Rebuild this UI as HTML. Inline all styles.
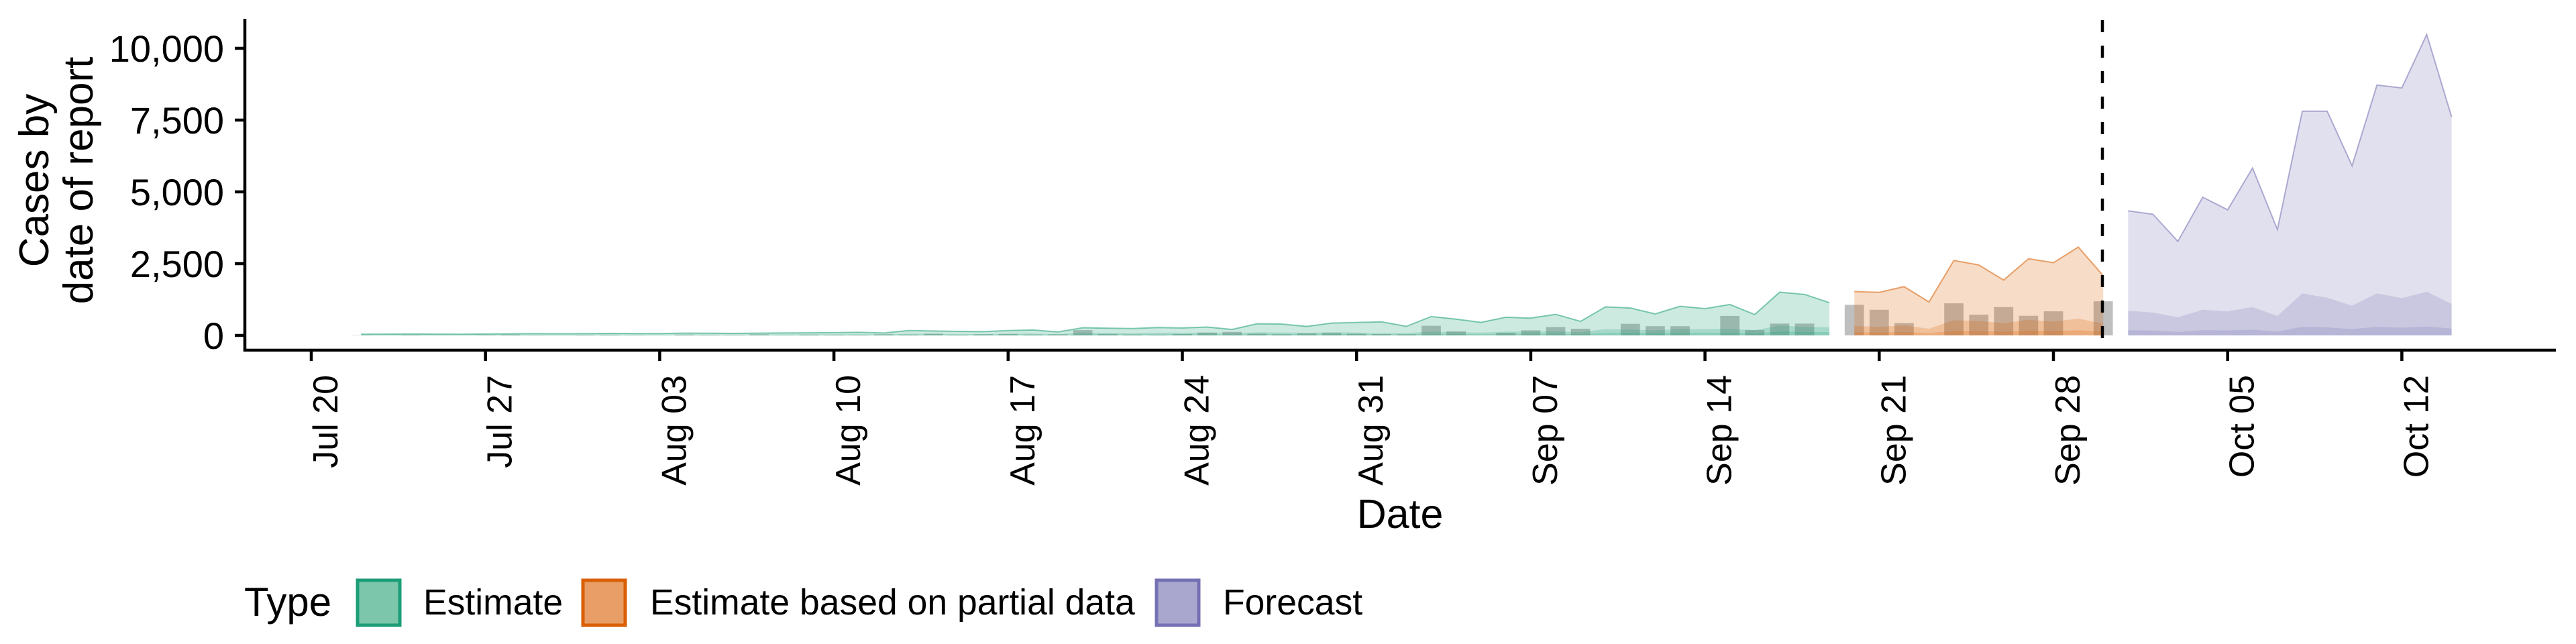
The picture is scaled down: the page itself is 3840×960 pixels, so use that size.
<!DOCTYPE html>
<html><head><meta charset="utf-8"><style>
html,body{margin:0;padding:0;background:#fff;}
svg{display:block;font-family:"Liberation Sans",Arial,sans-serif;}
</style></head><body>
<svg id="chart" width="3840" height="960" viewBox="0 0 3840 960" xmlns="http://www.w3.org/2000/svg">
<g id="bars"></g>
<g id="ribbons"></g>
<line x1="3134" y1="30" x2="3134" y2="522" stroke="#000" stroke-width="4.5" stroke-dasharray="18,20"/>
<line x1="365" y1="28" x2="365" y2="524" stroke="#000" stroke-width="4.5"/>
<line x1="363" y1="522" x2="3810" y2="522" stroke="#000" stroke-width="4.5"/>
<g id="yticks"></g>
<g id="xticks"></g>
<text transform="translate(72,269) rotate(-90)" text-anchor="middle" font-size="62"><tspan x="0" dy="0">Cases by</tspan><tspan x="0" dy="66">date of report</tspan></text>
<text x="2087" y="787" text-anchor="middle" font-size="61">Date</text>
<g>
<text x="364" y="918" font-size="60">Type</text>
<rect x="533" y="865" width="63" height="67" fill="#7cc7ac" stroke="#1B9E77" stroke-width="5"/>
<text x="631" y="916" font-size="53.5">Estimate</text>
<rect x="869" y="865" width="63" height="67" fill="#e89e66" stroke="#D95F02" stroke-width="5"/>
<text x="969" y="916" font-size="53.5">Estimate based on partial data</text>
<rect x="1724" y="865" width="63" height="67" fill="#aaa7cf" stroke="#7570B3" stroke-width="5"/>
<text x="1823" y="916" font-size="53.5">Forecast</text>
</g>
</svg>
<script>
// x axis ticks: day offsets from Jul 20
const tickDays = [0,7,14,21,28,35,42,49,56,63,70,77,84];
const tickLabels = ["Jul 20","Jul 27","Aug 03","Aug 10","Aug 17","Aug 24","Aug 31","Sep 07","Sep 14","Sep 21","Sep 28","Oct 05","Oct 12"];
const yTicks = [0,2500,5000,7500,10000];
const yTickLabels = ["0","2,500","5,000","7,500","10,000"];
// reported cases, days 2..72
const barStartDay = 2;
const barValues = [10,0,20,5,0,15,30,10,0,20,25,10,0,30,20,15,40,10,30,20,
 20,40,30,60,20,40,50,30,40,184,50,30,20,50,100,123,60,40,70,90,60,50,40,
 335,140,0,93,177,291,233,0,405,322,322,0,680,186,412,412,0,
 1065,893,427,0,1118,722,987,684,839,0,1188];
// Estimate: days 2..61
const estStartDay = 2;
const estUpper90 = [40,45,50,45,40,50,55,60,55,60,70,65,60,80,75,70,80,85,90,95,
 107,84,168,155,140,130,168,190,120,268,250,240,275,260,291,207,405,395,314,428,451,473,
 315,657,566,452,634,603,734,489,993,955,748,1016,932,1077,727,1505,1429,1140];
const estUpper50 = [15,18,20,18,16,20,22,24,22,24,28,26,24,32,30,28,32,34,36,38,
 40,35,60,55,50,48,60,68,45,95,90,85,95,92,100,75,110,105,90,115,100,69,
 84,130,115,100,130,130,145,115,222,207,176,222,222,230,184,345,299,284];
const estUpper20 = [6,7,8,7,6,8,9,10,9,10,11,10,10,13,12,11,13,14,14,15,
 16,14,24,22,20,19,24,27,18,38,36,34,38,37,40,30,44,42,36,46,40,28,
 34,52,46,40,52,52,58,46,89,83,70,89,89,92,74,138,120,114];
// Estimate based on partial data: days 62..72
const partStartDay = 62;
const partUpper90 = [1530,1500,1700,1165,2610,2455,1927,2672,2532,3076,2081];
const partUpper50 = [326,296,350,233,529,505,427,543,482,583,412];
const partUpper20 = [110,100,120,80,160,150,130,170,150,180,130];
// Forecast: days 73..86
const fcStartDay = 73;
const fcUpper90 = [4340,4220,3275,4815,4375,5830,3690,7810,7810,5910,8720,8620,10480,7610];
const fcUpper50 = [858,797,632,893,834,988,678,1463,1310,1035,1463,1298,1524,1095];
const fcUpper20 = [180,170,120,180,175,200,130,300,280,220,300,270,310,240];

const NS = "http://www.w3.org/2000/svg";
function xScale(d){ return 464 + 37.1*d; }
function yScale(v){ return 500 - v*0.0428; }

const barsG = document.getElementById('bars');
const bw = 0.775*37.1;
barValues.forEach((v,i)=>{
  if(v<=0) return;
  const d = barStartDay + i;
  const r = document.createElementNS(NS,'rect');
  r.setAttribute('x', xScale(d)-bw/2);
  r.setAttribute('y', yScale(v));
  r.setAttribute('width', bw);
  r.setAttribute('height', yScale(0)-yScale(v));
  r.setAttribute('fill', '#808080');
  r.setAttribute('fill-opacity', '0.5');
  
  
  barsG.appendChild(r);
});

const ribG = document.getElementById('ribbons');
function ribbon(start, vals, color, name, outline){
  let pts = [];
  vals.forEach((v,i)=>pts.push(xScale(start+i)+','+yScale(v)));
  pts.push(xScale(start+vals.length-1)+','+yScale(0));
  pts.push(xScale(start)+','+yScale(0));
  const p = document.createElementNS(NS,'polygon');
  p.setAttribute('points', pts.join(' '));
  p.setAttribute('fill', color);
  p.setAttribute('fill-opacity', '0.22');
  
  
  ribG.appendChild(p);
  if(outline){
    const l = document.createElementNS(NS,'polyline');
    l.setAttribute('points', vals.map((v,i)=>xScale(start+i)+','+yScale(v)).join(' '));
    l.setAttribute('fill', 'none');
    l.setAttribute('stroke', color);
    l.setAttribute('stroke-opacity', '0.55');
    l.setAttribute('stroke-width', '2');
    
    
    ribG.appendChild(l);
  }
}
ribbon(estStartDay, estUpper90, '#1B9E77', 'estimate-ribbon-90', true);
ribbon(estStartDay, estUpper50, '#1B9E77', 'estimate-ribbon-50', false);
ribbon(estStartDay, estUpper20, '#1B9E77', 'estimate-ribbon-20', false);
ribbon(partStartDay, partUpper90, '#D95F02', 'partial-ribbon-90', true);
ribbon(partStartDay, partUpper50, '#D95F02', 'partial-ribbon-50', false);
ribbon(partStartDay, partUpper20, '#D95F02', 'partial-ribbon-20', false);
ribbon(fcStartDay, fcUpper90, '#7570B3', 'forecast-ribbon-90', true);
ribbon(fcStartDay, fcUpper50, '#7570B3', 'forecast-ribbon-50', false);
ribbon(fcStartDay, fcUpper20, '#7570B3', 'forecast-ribbon-20', false);

const yg = document.getElementById('yticks');
yTicks.forEach((v,i)=>{
  const y = yScale(v);
  const l = document.createElementNS(NS,'line');
  l.setAttribute('x1', 350); l.setAttribute('x2', 365);
  l.setAttribute('y1', y); l.setAttribute('y2', y);
  l.setAttribute('stroke', '#000'); l.setAttribute('stroke-width', '4.5');
  
  
  yg.appendChild(l);
  const t = document.createElementNS(NS,'text');
  t.setAttribute('x', 334); t.setAttribute('y', y+20);
  t.setAttribute('text-anchor', 'end'); t.setAttribute('font-size', '56');
  t.textContent = yTickLabels[i];
  
  
  yg.appendChild(t);
});

const xg = document.getElementById('xticks');
tickDays.forEach((d,i)=>{
  const x = xScale(d);
  const l = document.createElementNS(NS,'line');
  l.setAttribute('x1', x); l.setAttribute('x2', x);
  l.setAttribute('y1', 522); l.setAttribute('y2', 538);
  l.setAttribute('stroke', '#000'); l.setAttribute('stroke-width', '4.5');
  
  
  xg.appendChild(l);
  const t = document.createElementNS(NS,'text');
  t.setAttribute('transform', 'translate('+(x+39)+',559) rotate(-90)');
  t.setAttribute('text-anchor', 'end'); t.setAttribute('font-size', '52');
  t.textContent = tickLabels[i];
  
  
  xg.appendChild(t);
});
</script>
</body></html>
